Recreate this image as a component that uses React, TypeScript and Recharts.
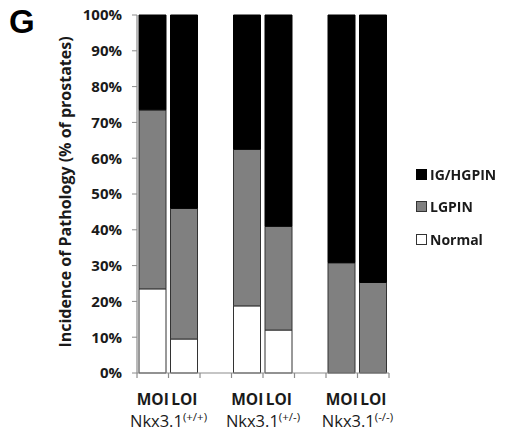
import React from "react";
import { BarChart, Bar, XAxis, YAxis, Legend, Label } from "recharts";

// Categories along the x axis (empty slots separate the genotype groups)
const categories = ["MOI", "LOI", "", "MOI", "LOI", "", "MOI", "LOI"];
const groupLabels = ["", "(+/+)", "", "", "(+/-)", "", "", "(-/-)"];

// Incidence (% of prostates) per pathology
const normal = [23.5, 9.5, null, 18.75, 12, null, 0, 0];
const lgpin = [50, 36.5, null, 43.75, 29, null, 30.8, 25.3];
const hgpin = [26.5, 54, null, 37.5, 59, null, 69.2, 74.7];

const yTicks = [0, 10, 20, 30, 40, 50, 60, 70, 80, 90, 100];

const data = categories.map((c, i) => ({
  name: c,
  key: i,
  group: groupLabels[i],
  normal: normal[i],
  lgpin: lgpin[i],
  hgpin: hgpin[i],
}));

const FONT = "'Open Sans', sans-serif";
const AXIS_GRAY = "#8c8c8c";
const TEXT = "#1a1a1a";

const CHART_W = 505;
const CHART_H = 435;
const MARGIN = { top: 15, right: 116, left: 80, bottom: 0 };
const Y_AXIS_W = 57;
const PLOT_W = CHART_W - MARGIN.left - MARGIN.right - Y_AXIS_W;
const BAND = PLOT_W / categories.length;

const XTick = (props: any) => {
  const { x, y, payload, index } = props;
  const d = data[index];
  const half = BAND / 2;
  const left = x - half;
  return (
    <g>
      <line x1={left} y1={y - 8} x2={left} y2={y - 3} stroke={AXIS_GRAY} strokeWidth={1.2} />
      {index === categories.length - 1 && (
        <line x1={x + half} y1={y - 8} x2={x + half} y2={y - 3} stroke={AXIS_GRAY} strokeWidth={1.2} />
      )}
      {payload.value && (
        <text
          x={x}
          y={y + 24}
          textAnchor="middle"
          fontFamily={FONT}
          fontWeight={700}
          fontSize={15.5}
          fill={TEXT}
        >
          {payload.value}
        </text>
      )}
      {d && d.group && (
        <text x={left} y={y + 46} textAnchor="middle" fontFamily={FONT} fontSize={16.5} fill={TEXT}>
          Nkx3.1
          <tspan fontSize={11.5} dy={-6}>
            {d.group}
          </tspan>
        </text>
      )}
    </g>
  );
};

const legendItems = [
  { label: "IG/HGPIN", fill: "#000000", stroke: "#000000" },
  { label: "LGPIN", fill: "#808080", stroke: "#333333" },
  { label: "Normal", fill: "#ffffff", stroke: "#333333" },
];

const LegendContent = () => (
  <div style={{ fontFamily: FONT }}>
    {legendItems.map((it) => (
      <div
        key={it.label}
        style={{ display: "flex", alignItems: "center", height: 32.5, fontWeight: 700, fontSize: 14, color: TEXT }}
      >
        <span
          style={{
            display: "inline-block",
            width: 9,
            height: 9,
            background: it.fill,
            border: `1px solid ${it.stroke}`,
            marginRight: 3,
          }}
        />
        {it.label}
      </div>
    ))}
  </div>
);

export default function App() {
  return (
    <div style={{ position: "fixed", left: 0, top: 0, width: CHART_W, height: CHART_H, background: "#fff" }}>
      <div
        style={{
          position: "absolute",
          left: 9,
          top: 3,
          fontFamily: "'Liberation Sans', Arial, sans-serif",
          fontWeight: 700,
          fontSize: 33,
          color: "#000",
        }}
      >
        G
      </div>
      <BarChart width={CHART_W} height={CHART_H} data={data} margin={MARGIN} barSize={27}>
        <XAxis
          dataKey="name"
          interval={0}
          height={62}
          tick={<XTick />}
          tickLine={false}
          axisLine={{ stroke: AXIS_GRAY, strokeWidth: 1.2 }}
        />
        <YAxis
          width={Y_AXIS_W}
          domain={[0, 100]}
          ticks={yTicks}
          interval={0}
          tickFormatter={(v: number) => `${v}%`}
          tickSize={5}
          tickMargin={10}
          tickLine={{ stroke: AXIS_GRAY }}
          axisLine={{ stroke: AXIS_GRAY, strokeWidth: 1.2 }}
          tick={{ fontFamily: FONT, fontWeight: 700, fontSize: 15, fill: TEXT }}
        >
          <Label
            content={() => (
              <text
                x={65}
                y={192}
                transform="rotate(-90 65 192)"
                textAnchor="middle"
                dominantBaseline="central"
                fontFamily={FONT}
                fontWeight={700}
                fontSize={16}
                fill={TEXT}
              >
                Incidence of Pathology (% of prostates)
              </text>
            )}
          />
        </YAxis>
        <Legend
          layout="vertical"
          align="center"
          verticalAlign="middle"
          content={<LegendContent />}
          wrapperStyle={{ position: "absolute", left: 416, top: 158, width: 90 }}
        />
        <Bar dataKey="normal" stackId="a" fill="#ffffff" stroke="#333333" strokeWidth={1} isAnimationActive={false} />
        <Bar dataKey="lgpin" stackId="a" fill="#808080" stroke="#333333" strokeWidth={1} isAnimationActive={false} />
        <Bar dataKey="hgpin" stackId="a" fill="#000000" stroke="#000000" strokeWidth={1} isAnimationActive={false} />
      </BarChart>
    </div>
  );
}
